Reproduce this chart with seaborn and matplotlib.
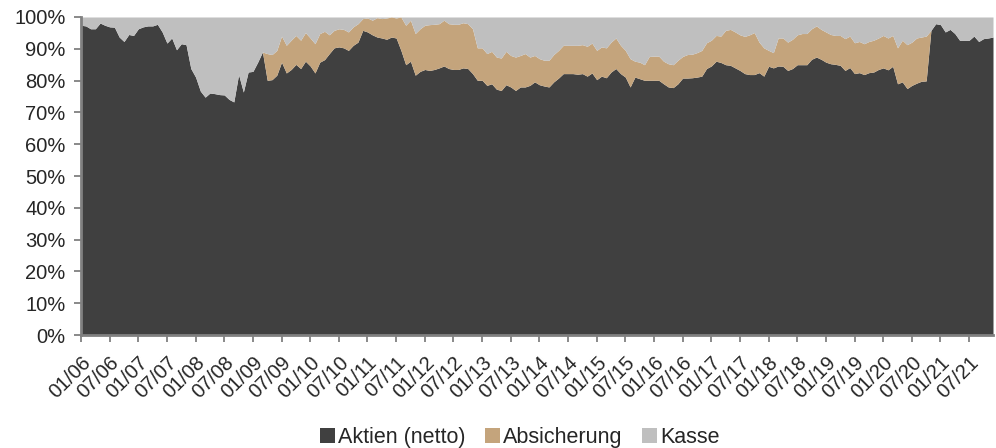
import numpy as np
import matplotlib
matplotlib.use("Agg")
import matplotlib.pyplot as plt
from matplotlib.patches import Patch
import seaborn as sns

# monthly, 01/2006 .. 12/2021, values in %
aktien = [
    97.4, 97.2, 96.3, 96.3, 98.1, 97.4, 96.9, 96.8, 93.7, 92.3, 94.5, 94.2,
    96.3, 96.9, 97.2, 97.2, 97.7, 95.3, 91.8, 93.4, 89.7, 91.6, 91.3, 83.8,
    81.1, 76.7, 74.8, 76.1, 75.9, 75.6, 75.5, 74.1, 73.3, 81.9, 76.4, 82.7,
    82.9, 85.8, 89.0, 80.1, 80.3, 81.7, 85.8, 82.4, 83.5, 85.1, 83.8, 86.1,
    84.6, 82.4, 85.8, 86.6, 88.5, 90.3, 90.6, 90.3, 89.5, 91.1, 92.1, 95.8,
    95.3, 94.4, 93.7, 93.4, 93.0, 93.7, 93.4, 89.5, 85.0, 86.1, 81.7, 82.9,
    83.5, 83.2, 83.5, 84.0, 84.6, 83.8, 83.5, 83.5, 84.0, 83.8, 82.2, 80.1,
    80.1, 78.5, 79.0, 77.3, 76.9, 78.7, 78.0, 76.9, 78.0, 78.0, 78.5, 79.6,
    78.7, 78.3, 78.0, 79.6, 80.8, 82.2, 82.2, 82.2, 82.0, 82.2, 81.4, 82.4,
    80.3, 81.4, 80.9, 82.7, 83.8, 82.2, 81.1, 78.0, 81.1, 80.6, 80.1, 80.1,
    80.1, 80.1, 79.0, 78.0, 77.8, 79.0, 80.8, 80.8, 80.9, 81.1, 81.4, 83.8,
    84.6, 86.1, 85.7, 85.0, 84.8, 84.0, 83.2, 82.2, 81.9, 81.9, 82.5, 81.4,
    84.5, 84.0, 84.6, 84.5, 83.2, 83.8, 85.0, 85.0, 85.0, 86.7, 87.4, 86.7,
    85.8, 85.3, 85.1, 84.8, 83.2, 84.1, 82.2, 82.5, 81.9, 82.5, 82.7, 83.5,
    84.0, 83.4, 84.5, 79.0, 79.6, 77.5, 78.5, 79.2, 79.8, 79.9, 95.8, 97.9,
    97.6, 95.3, 96.1, 94.8, 92.7, 92.7, 92.7, 94.0, 92.3, 93.2, 93.4, 93.7,
]

# upper edge of Absicherung (Aktien + Absicherung), 03/2009 .. 10/2020
hedge_top = [
    89.0, 88.5, 88.2, 89.5, 94.0, 91.1, 92.7, 94.2, 92.7, 95.1, 93.4, 91.6,
    94.8, 95.5, 94.4, 95.8, 96.3, 96.1, 95.3, 96.9, 97.9, 99.5, 99.7, 99.0,
    99.8, 99.5,
    99.7, 100.0, 99.7, 100.0, 97.4, 99.0, 94.8, 96.3, 97.4, 97.6, 97.7, 97.9,
    99.0, 97.9, 97.7, 97.7, 98.2, 97.9, 96.3, 90.3, 90.3, 88.5, 89.2, 87.4,
    87.1, 89.2, 87.9, 87.4, 87.9, 88.5, 87.4, 87.9,
    86.9, 86.4, 86.4, 88.2, 89.5, 91.1, 91.1, 91.1, 91.1, 91.3, 90.8, 91.8,
    89.5, 90.6, 90.3, 92.1, 93.4, 91.1, 89.5, 86.9, 86.1, 85.8, 85.0, 87.6,
    87.7, 87.7, 86.1, 85.3, 85.0, 86.4, 87.6, 88.2,
    88.3, 88.8, 89.5, 91.9, 92.7, 94.2, 94.0, 95.8, 96.1, 95.3, 94.4, 93.9,
    94.4, 95.1, 92.1, 90.3, 89.5, 88.8, 93.4, 93.4, 92.1, 93.0, 94.4, 94.8,
    94.8, 96.3, 97.2, 96.1, 95.3, 94.5, 94.2, 94.2,
    93.2, 94.0, 91.9, 92.3, 91.6, 92.3, 92.7, 93.4, 94.2, 93.4, 94.2, 90.3,
    92.7, 91.3, 92.1, 93.4, 93.7, 94.0,
]
hedge_start = 38

labels = ["Aktien (netto)", "Absicherung", "Kasse"]
colors = ["#404040", "#C4A47C", "#BFBFBF"]

months = [f"{m:02d}/{y % 100:02d}" for y in range(2006, 2022) for m in range(1, 13)]

a = np.array(aktien)
top = a.copy()
top[hedge_start:hedge_start + len(hedge_top)] = hedge_top
top = np.minimum(top, 100)
absicherung = top - a
kasse = 100 - top
x = np.arange(len(a))

sns.set_style("white")
plt.rcParams["font.family"] = ["Liberation Sans", "DejaVu Sans"]

fig = plt.figure(figsize=(9.96, 4.48), dpi=100)
ax = fig.add_axes([81 / 996, 113 / 448, 912 / 996, 318 / 448])
ax.stackplot(x, a, absicherung, kasse, colors=colors, linewidth=0)

ax.set_xlim(0, len(a) - 1)
ax.set_ylim(0, 100)
ax.set_yticks(range(0, 101, 10))
ax.set_yticklabels([f"{v}%" for v in range(0, 101, 10)], fontsize=14.5)
ticks = list(range(0, len(a), 6))
ax.set_xticks(ticks)
ax.set_xticklabels([months[t] for t in ticks], rotation=45, ha="right",
                   rotation_mode="anchor", fontsize=14.5)
ax.tick_params(axis="both", direction="out", length=5, width=1.3, color="#808080",
               bottom=True, left=True)
ax.tick_params(axis="y", pad=6)
ax.tick_params(axis="x", pad=8)

sns.despine(ax=ax, top=True, right=True)
for s in ["left", "bottom"]:
    ax.spines[s].set_color("#808080")
    ax.spines[s].set_linewidth(2)
    ax.spines[s].set_zorder(5)

handles = [Patch(facecolor=c, edgecolor="none") for c in colors]
fig.legend(handles, labels, loc="center", bbox_to_anchor=(0.522, 0.024), ncol=3,
           frameon=False, fontsize=15.5, handlelength=0.7, handleheight=0.7,
           handletextpad=0.15, columnspacing=0.9, borderpad=0)

fig.savefig("out.png", dpi=100)
